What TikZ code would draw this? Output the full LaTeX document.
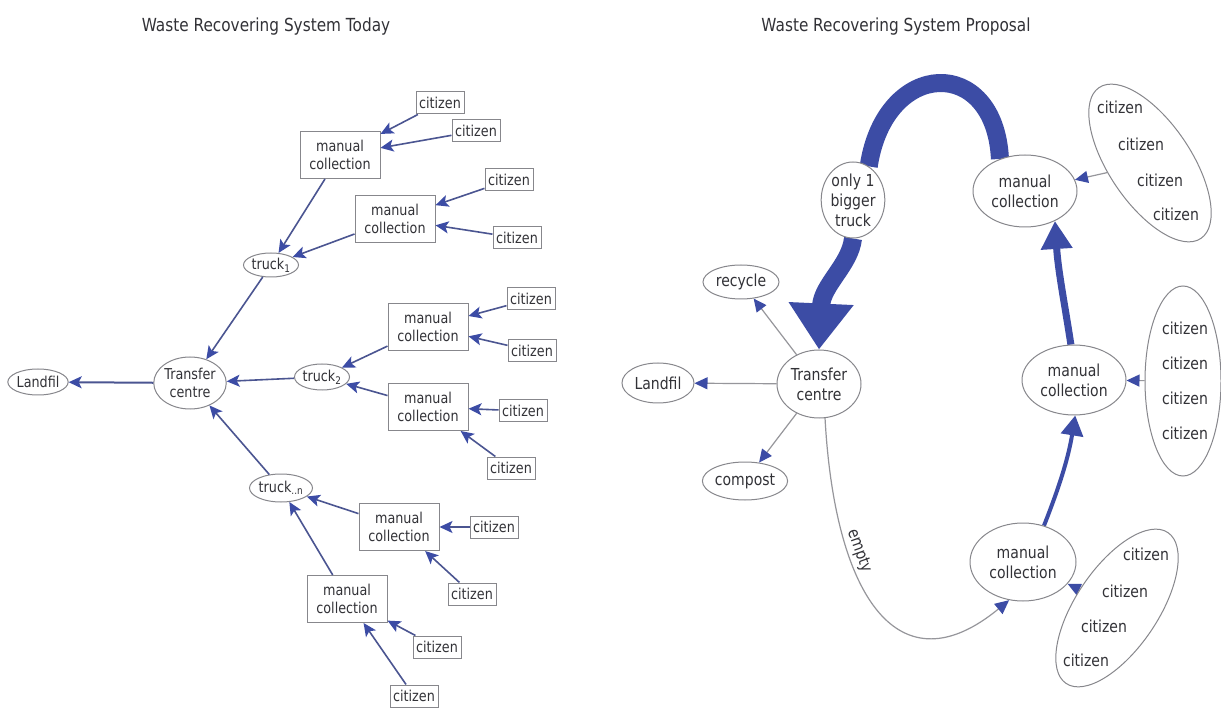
\documentclass[tikz,border=0pt]{standalone}
\usepackage{fontspec}
\setmainfont[FakeStretch=0.85]{DejaVu Sans}
\usetikzlibrary{arrows.meta,shapes.geometric}
\pgfdeclarelayer{bg}
\pgfsetlayers{bg,main}
\definecolor{ablue}{RGB}{60,76,165}
\definecolor{lline}{RGB}{75,85,145}
\definecolor{nborder}{RGB}{135,135,140}
\definecolor{txt}{RGB}{50,50,55}
\definecolor{thin}{RGB}{150,150,155}
\tikzset{
  ltext/.style={text=txt, font=\fontsize{15}{17.5}\selectfont, align=center},
  rtext/.style={text=txt, font=\fontsize{16.5}{20}\selectfont, align=center},
  lbox/.style={ltext, draw=nborder, line width=1pt, rectangle, inner sep=1pt, fill=white},
  cit/.style={lbox, minimum width=48, minimum height=22},
  mcl/.style={lbox, minimum width=80, minimum height=47},
  lell/.style={ltext, ellipse, draw=nborder, line width=1pt, inner sep=0pt, fill=white},
  rell/.style={rtext, ellipse, draw=nborder, line width=1pt, inner sep=0pt, fill=white},
  cell/.style={ellipse, draw=nborder, line width=1pt, inner sep=0pt},
  ctxt/.style={rtext, inner sep=0pt},
  titletext/.style={text=txt, font=\fontsize{18}{21}\selectfont},
  larr/.style={draw=lline, line width=1.6pt, -{Stealth[length=13pt,width=12pt,inset=3pt,color=ablue]}},
  rthin/.style={draw=thin, line width=1.2pt, -{Triangle[length=13pt,width=12pt,color=ablue]}},
}
\begin{document}
\begin{tikzpicture}[x=1pt,y=-1pt]
\useasboundingbox (0,0) rectangle (1221,708);
% titles
\node[titletext] (ttl1) at (266,27) {Waste Recovering System Today};
\node[titletext] (ttl2) at (896,27) {Waste Recovering System Proposal};

% ---------------- left diagram ----------------
\node[lell, minimum width=58, minimum height=26] (lland) at (38,382) {Landfil};
\node[lell, minimum width=72, minimum height=52] (ltc) at (190,383) {Transfer\\centre};
\node[lell, minimum width=46, minimum height=24] (t1) at (271,265) {truck\textsubscript{1}};
\node[lell, minimum width=52, minimum height=26] (t2) at (322,377) {truck\textsubscript{2}};
\node[lell, minimum width=54, minimum height=28] (tn) at (281,488) {truck\textsubscript{..n}};

\node[mcl] (m1) at (340,155) {manual\\collection};
\node[mcl] (m2) at (395,219) {manual\\collection};
\node[mcl] (m3) at (428,327) {manual\\collection};
\node[mcl] (m4) at (428,407) {manual\\collection};
\node[mcl] (m5) at (399,527) {manual\\collection};
\node[mcl] (m6) at (347,599) {manual\\collection};

\node[cit] (c1) at (440,103) {citizen};
\node[cit] (c2) at (476,131) {citizen};
\node[cit] (c3) at (509,180) {citizen};
\node[cit] (c4) at (517,238) {citizen};
\node[cit] (c5) at (531,299) {citizen};
\node[cit] (c6) at (532,351) {citizen};
\node[cit] (c7) at (523,411) {citizen};
\node[cit] (c8) at (511,468) {citizen};
\node[cit] (c9) at (494,527) {citizen};
\node[cit] (c10) at (472,594) {citizen};
\node[cit] (c11) at (437,647) {citizen};
\node[cit] (c12) at (414,696) {citizen};

\draw[larr] (c1) -- (m1);
\draw[larr] (c2) -- (m1);
\draw[larr] (c3) -- (m2);
\draw[larr] (c4) -- (m2);
\draw[larr] (c5) -- (m3);
\draw[larr] (c6) -- (m3);
\draw[larr] (c7) -- (m4);
\draw[larr] (c8) -- (m4);
\draw[larr] (c9) -- (m5);
\draw[larr] (c10) -- (m5);
\draw[larr] (c11) -- (m6);
\draw[larr] (c12) -- (m6);
\draw[larr] (m1) -- (t1);
\draw[larr] (m2) -- (t1);
\draw[larr] (m3) -- (t2);
\draw[larr] (m4) -- (t2);
\draw[larr] (m5) -- (tn);
\draw[larr] (m6) -- (tn);
\draw[larr] (t1) -- (ltc);
\draw[larr] (t2) -- (ltc);
\draw[larr] (tn) -- (ltc);
\draw[larr, line width=2pt] (ltc) -- (lland);

% ---------------- right diagram ----------------
\node[rell, minimum width=72, minimum height=40] (rland) at (658,383) {Landfil};
\node[rell, minimum width=84, minimum height=68] (rtc) at (819,384) {Transfer\\centre};
\node[rell, minimum width=76, minimum height=34] (rec) at (741,282) {recycle};
\node[rell, minimum width=80, minimum height=38] (comp) at (745,481) {compost};
\node[rell, minimum width=60, minimum height=76] (truck) at (853,200) {only 1\\bigger\\truck};
\node[rell, minimum width=104, minimum height=72] (mcT) at (1025,191) {manual\\collection};
\node[rell, minimum width=104, minimum height=70] (mcM) at (1074,380) {manual\\collection};
\node[rell, minimum width=106, minimum height=78] (mcB) at (1023,562) {manual\\collection};

\node[cell, minimum width=182, minimum height=82, rotate=-56] (ce1) at (1150,163) {};
\node[cell, minimum width=76, minimum height=190] (ce2) at (1183,381) {};
\node[cell, minimum width=182, minimum height=82, rotate=56] (ce3) at (1117,608) {};

\node[ctxt] (ce1a) at (1120,107) {citizen};
\node[ctxt] (ce1b) at (1141,144) {citizen};
\node[ctxt] (ce1c) at (1160,180) {citizen};
\node[ctxt] (ce1d) at (1176,214) {citizen};
\node[ctxt] (ce2a) at (1185,328) {citizen};
\node[ctxt] (ce2b) at (1185,363) {citizen};
\node[ctxt] (ce2c) at (1185,398) {citizen};
\node[ctxt] (ce2d) at (1185,433) {citizen};
\node[ctxt] (ce3a) at (1146,554) {citizen};
\node[ctxt] (ce3b) at (1125,591) {citizen};
\node[ctxt] (ce3c) at (1104,626) {citizen};
\node[ctxt] (ce3d) at (1086,660) {citizen};

\begin{pgfonlayer}{bg}
\fill[white] (0,0) rectangle (1221,708);
\draw[rthin] (rtc) -- (rland);
\draw[rthin] (rtc) -- (rec);
\draw[rthin] (rtc) -- (comp);
\draw[rthin] (ce1) -- (mcT);
\draw[rthin] (ce2) -- (mcM);
\draw[rthin] (ce3) -- (mcB);
% big truck loop
\draw[ablue, line width=18pt] (mcT.128) .. controls (995,55) and (885,58) .. (truck.65);
\draw[ablue, line width=18pt, -{Triangle[length=46pt,width=62pt]}] (truck.south) .. controls (850,265) and (822,285) .. (rtc.north);
\draw[ablue, line width=7pt, -{Triangle[length=28pt,width=30pt]}] (mcM.95) .. controls (1064,300) and (1058,270) .. (mcT.-45);
\draw[ablue, line width=4pt, -{Triangle[length=20pt,width=22pt]}] (mcB.60) .. controls (1058,490) and (1068,460) .. (mcM.-88);
\draw[draw=thin, line width=1.2pt, -{Triangle[length=14pt,width=13pt,color=ablue]}] (rtc.-80) .. controls (835,600) and (900,690) .. (mcB.-110)
  node[pos=0.3, sloped, above, rtext, inner sep=3pt] (emp) {empty};
\end{pgfonlayer}
\end{tikzpicture}
\end{document}
